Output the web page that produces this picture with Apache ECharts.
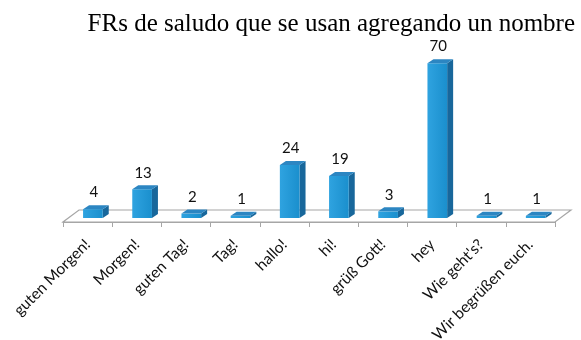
<!DOCTYPE html>
<html>
<head>
<meta charset="utf-8">
<script src="https://cdn.jsdelivr.net/npm/echarts@6/dist/echarts.min.js"></script>
<style>
  html, body { margin: 0; padding: 0; background: #ffffff; }
  #chart { width: 581px; height: 340px; }
</style>
</head>
<body>
<div id="chart"></div>
<script>
// Greeting formulas used together with a name
const categories = ['guten Morgen!', 'Morgen!', 'guten Tag!', 'Tag!', 'hallo!', 'hi!', 'grüß Gott!', 'hey', "Wie geht's?", 'Wir begrüßen euch.'];
const counts = [4, 13, 2, 1, 24, 19, 3, 70, 1, 1];
const titleText = 'FRs de saludo que se usan agregando un nombre';

// perspective offsets for the floor and for each bar's depth
const FLOOR_DX = 16, FLOOR_DY = -12;
const BAR_OX = 5.3, BAR_OY = -4;
const BAR_DX = 6, BAR_DY = -4;

const chart = echarts.init(document.getElementById('chart'), null, { renderer: 'canvas' });

function renderFloor(params, api) {
  const cs = params.coordSys;
  const x = cs.x, y = cs.y + cs.height, w = cs.width;
  return {
    type: 'polygon',
    shape: { points: [[x, y], [x + w, y], [x + w + FLOOR_DX, y + FLOOR_DY], [x + FLOOR_DX, y + FLOOR_DY]] },
    style: { fill: '#ffffff', stroke: '#a6a6a6', lineWidth: 1.2 },
    silent: true
  };
}

function renderBar(params, api) {
  const idx = api.value(0);
  const val = api.value(1);
  const base = api.coord([idx, 0]);
  const top = api.coord([idx, val]);
  const band = api.size([1, 0])[0];
  const w = band * 0.4;
  const x0 = base[0] - w / 2 + BAR_OX;
  const yb = base[1] + BAR_OY;
  const yt = top[1] + BAR_OY;
  return {
    type: 'group',
    children: [
      {
        type: 'polygon',
        shape: { points: [[x0 + w, yb], [x0 + w, yt], [x0 + w + BAR_DX, yt + BAR_DY], [x0 + w + BAR_DX, yb + BAR_DY]] },
        style: { fill: '#18679b' }
      },
      {
        type: 'rect',
        shape: { x: x0, y: yt, width: w, height: yb - yt },
        style: {
          fill: new echarts.graphic.LinearGradient(0, 0, 1, 0, [
            { offset: 0, color: '#2fa3e0' },
            { offset: 1, color: '#1a8fcd' }
          ])
        }
      },
      {
        type: 'polygon',
        shape: { points: [[x0, yt], [x0 + w, yt], [x0 + w + BAR_DX, yt + BAR_DY], [x0 + BAR_DX, yt + BAR_DY]] },
        style: { fill: '#2c86c2' }
      },
      {
        type: 'text',
        style: {
          x: x0 + w / 2 + 1,
          y: yt + BAR_DY - 5,
          text: String(val),
          align: 'center',
          verticalAlign: 'bottom',
          fill: '#111111',
          font: '15px Lato, "Open Sans", sans-serif'
        }
      }
    ]
  };
}

chart.setOption({
  backgroundColor: '#ffffff',
  animation: false,
  title: {
    text: titleText,
    right: 1,
    top: 7,
    textStyle: { fontFamily: '"Liberation Serif", "DejaVu Serif", serif', fontSize: 25, fontWeight: 'normal', color: '#000000' }
  },
  grid: { left: 63, right: 26, top: 45, bottom: 118, containLabel: false, outerBoundsMode: 'none' },
  xAxis: {
    type: 'category',
    data: categories,
    boundaryGap: true,
    axisLine: { show: true, lineStyle: { color: '#a6a6a6', width: 1.2 } },
    axisTick: { show: true, length: 5, interval: 0, lineStyle: { color: '#a6a6a6' } },
    axisLabel: {
      interval: 0,
      rotate: 45,
      margin: 20,
      color: '#111111',
      fontFamily: 'Lato, "Open Sans", sans-serif',
      fontSize: 15.5
    },
    splitLine: { show: false },
    z: 5
  },
  yAxis: {
    type: 'value',
    min: 0,
    max: 80,
    show: false
  },
  series: [
    {
      type: 'custom',
      renderItem: renderFloor,
      data: [[0, 0]],
      z: 1,
      silent: true
    },
    {
      type: 'custom',
      renderItem: renderBar,
      encode: { x: 0, y: 1 },
      data: counts.map((v, i) => [i, v]),
      z: 3
    }
  ]
});
</script>
</body>
</html>
